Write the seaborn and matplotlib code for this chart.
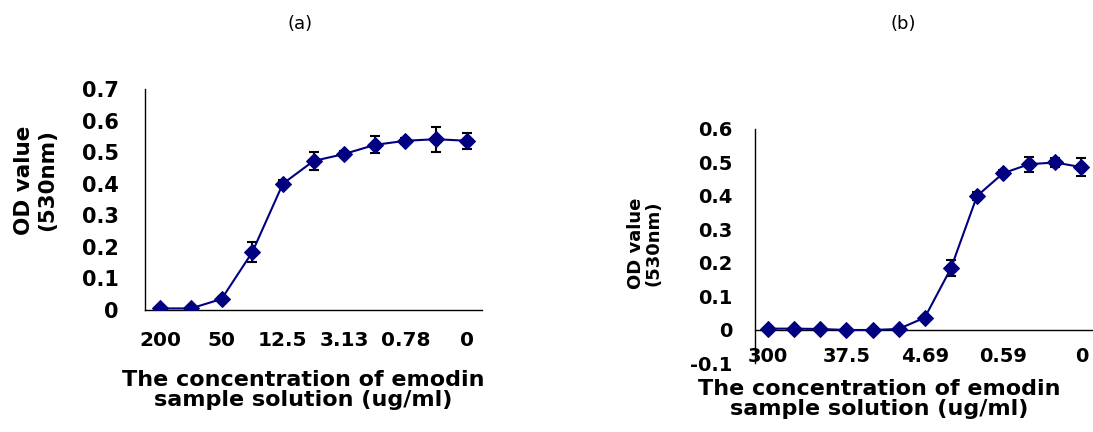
import matplotlib
matplotlib.use('Agg')
import matplotlib.pyplot as plt
import numpy as np
import seaborn as sns

# concentration of emodin (ug/ml), OD at 530nm, error bars
conc_a = ['200', '100', '50', '25', '12.5', '6.25', '3.13', '1.56', '0.78', '0.39', '0']
od_a = [0.005, 0.005, 0.035, 0.183, 0.400, 0.472, 0.494, 0.523, 0.536, 0.541, 0.536]
err_a = [0.002, 0.002, 0.005, 0.032, 0.012, 0.027, 0.010, 0.027, 0.010, 0.040, 0.025]

conc_b = ['300', '150', '75', '37.5', '18.75', '9.38', '4.69', '2.34', '1.17', '0.59', '0.29', '0.15', '0']
od_b = [0.004, 0.004, 0.003, 0.000, 0.000, 0.003, 0.037, 0.184, 0.400, 0.468, 0.495, 0.500, 0.486]
err_b = [0.002, 0.002, 0.002, 0.002, 0.002, 0.002, 0.005, 0.024, 0.012, 0.010, 0.022, 0.013, 0.027]

yticks_a = [0, 0.1, 0.2, 0.3, 0.4, 0.5, 0.6, 0.7]
yticks_b = [-0.1, 0, 0.1, 0.2, 0.3, 0.4, 0.5, 0.6]

sns.set_style('white')
plt.rcParams['font.family'] = ['DejaVu Sans']
plt.rcParams['text.color'] = 'black'
plt.rcParams['xtick.color'] = 'black'
plt.rcParams['ytick.color'] = 'black'
plt.rcParams['axes.labelcolor'] = 'black'

navy = '#000080'
fig = plt.figure(figsize=(10.93, 4.32), dpi=100)
ax_a = fig.add_axes([0.1327, 0.2824, 0.3083, 0.5116])
ax_b = fig.add_axes([0.6908, 0.1586, 0.3106, 0.5428])
# panel (b): x axis line sits at OD = 0
ax_b.spines['bottom'].set_position(('data', 0))


def draw_panel(ax, conc, od, err, yticks, step, xfs, yfs, xpad, ypad):
    n = len(conc)
    x = np.arange(n)
    ax.errorbar(x, od, yerr=err, fmt='none', ecolor='black', elinewidth=1.5,
                capsize=3.5, capthick=1.5, zorder=2)
    sns.lineplot(x=x, y=od, ax=ax, color=navy, linewidth=1.5, marker='D',
                 markersize=8, markeredgecolor=navy, zorder=3)
    ax.set_xlim(-0.5, n - 0.5)
    ax.set_ylim(yticks[0], yticks[-1])
    for s in ['top', 'right']:
        ax.spines[s].set_visible(False)
    for s in ['left', 'bottom']:
        ax.spines[s].set_color('black')
        ax.spines[s].set_linewidth(1.0)
    # tick marks between categories, labels at categories
    ax.set_xticks(np.arange(n + 1) - 0.5)
    ax.set_xticklabels([])
    ax.set_xticks(x, minor=True)
    ax.set_xticklabels([c if i % step == 0 else '' for i, c in enumerate(conc)],
                       minor=True, fontsize=xfs, fontweight='bold')
    ax.tick_params(axis='x', which='major', direction='in', length=5, width=1, color='black')
    ax.tick_params(axis='x', which='minor', length=0, pad=xpad)
    ax.set_yticks(yticks)
    ax.set_yticklabels(['0' if v == 0 else f'{v:g}' for v in yticks],
                       fontsize=yfs, fontweight='bold')
    ax.tick_params(axis='y', direction='in', length=5, width=1, color='black', pad=ypad)
    ax.set_xlabel('')
    ax.set_ylabel('')


draw_panel(ax_a, conc_a, od_a, err_a, yticks_a, 2, 14.5, 15, 15, 19)
draw_panel(ax_b, conc_b, od_b, err_b, yticks_b, 3, 14, 14, 12, 16)

# titles
fig.text(300 / 1093, 1 - 24 / 432, '(a)', ha='center', va='center', fontsize=13)
fig.text(903 / 1093, 1 - 24 / 432, '(b)', ha='center', va='center', fontsize=13)

# axis titles
fig.text(303 / 1093, 1 - 390 / 432, 'The concentration of emodin\nsample solution (ug/ml)',
         ha='center', va='center', fontsize=16, fontweight='bold', linespacing=1.05)
fig.text(879 / 1093, 1 - 399 / 432, 'The concentration of emodin\nsample solution (ug/ml)',
         ha='center', va='center', fontsize=16, fontweight='bold', linespacing=0.95)
fig.text(36 / 1093, 1 - 180 / 432, 'OD value\n(530nm)', rotation=90,
         ha='center', va='center', fontsize=15.5, fontweight='bold', linespacing=1.2)
fig.text(645 / 1093, 1 - 243 / 432, 'OD value\n(530nm)', rotation=90,
         ha='center', va='center', fontsize=13, fontweight='bold', linespacing=1.0)

fig.savefig('out.png', dpi=100)
